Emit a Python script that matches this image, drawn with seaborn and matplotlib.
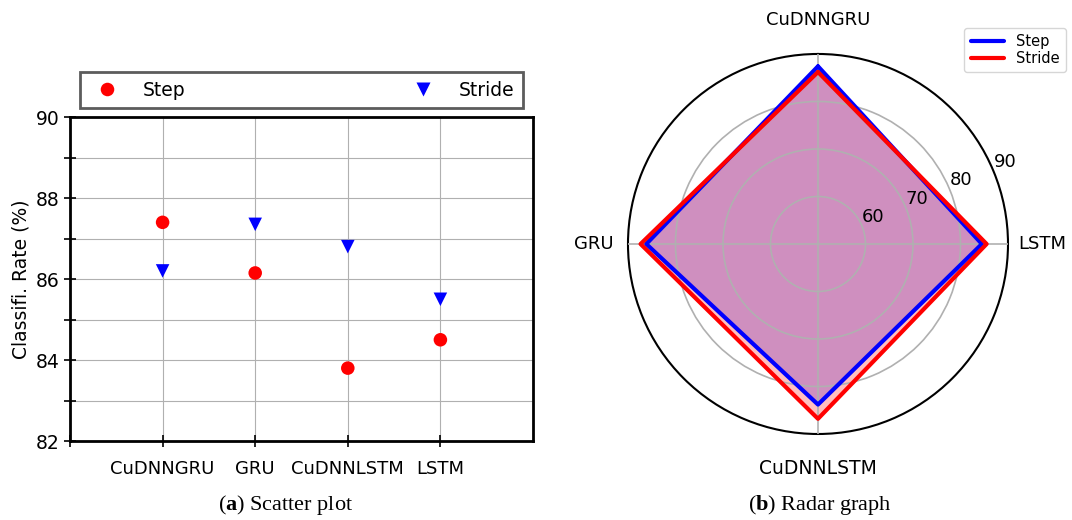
import numpy as np
import pandas as pd
import matplotlib
matplotlib.use("Agg")
import matplotlib.pyplot as plt
import seaborn as sns

# ---- data ----
models = ["CuDNNGRU", "GRU", "CuDNNLSTM", "LSTM"]
step_vals = [87.4, 86.15, 83.8, 84.5]
stride_vals = [86.2, 87.35, 86.8, 85.5]
y_ticks = [82, 84, 86, 88, 90]
r_ticks = [60, 70, 80, 90]
series_names = ["Step", "Stride"]

sns.set_style("ticks")
plt.rcParams["font.family"] = ["DejaVu Sans"]
plt.rcParams["text.color"] = "black"
plt.rcParams["axes.labelcolor"] = "black"
plt.rcParams["xtick.color"] = "black"
plt.rcParams["ytick.color"] = "black"
plt.rcParams["mathtext.fontset"] = "custom"
plt.rcParams["mathtext.rm"] = "Liberation Serif"
plt.rcParams["mathtext.bf"] = "Liberation Serif:bold"

fig = plt.figure(figsize=(10.72, 5.2), dpi=100)

# ---------------- scatter ----------------
ax = fig.add_axes([0.0653, 0.1519, 0.4319, 0.623])
df = pd.DataFrame({
    "x": list(range(len(models))) * 2,
    "y": step_vals + stride_vals,
    "series": [series_names[0]] * len(models) + [series_names[1]] * len(models),
})
sns.scatterplot(data=df, x="x", y="y", hue="series", style="series",
                palette={"Step": "red", "Stride": "blue"},
                markers={"Step": "o", "Stride": "v"},
                s=95, edgecolor="none", ax=ax, zorder=3)
ax.set_xlim(-1, 4)
ax.set_ylim(82, 90)
ax.set_xticks([-1] + list(range(len(models))))
ax.set_xticklabels([""] + models, fontsize=13)
ax.set_yticks(y_ticks)
ax.set_yticks([83, 85, 87, 89], minor=True)
ax.tick_params(axis="y", which="both", direction="inout", length=8, width=1.2,
               labelsize=13.5, colors="black")
ax.tick_params(axis="x", which="both", direction="inout", length=8, width=1.2,
               pad=10, colors="black")
ax.grid(True, which="major", color="#b0b0b0", lw=0.8)
ax.grid(True, which="minor", axis="y", color="#b0b0b0", lw=0.8)
ax.set_axisbelow(True)
for sp in ax.spines.values():
    sp.set_linewidth(2)
    sp.set_color("black")
ax.set_xlabel("")
ax.set_ylabel("Classifi. Rate (%)", fontsize=13.5, color="black")
handles, labels = ax.get_legend_handles_labels()
leg = ax.legend(handles, labels, loc="lower left", bbox_to_anchor=(0.022, 1.028, 0.956, 0.1),
                mode="expand", ncol=2, fontsize=13.5, fancybox=False, frameon=True,
                borderaxespad=0, handletextpad=0.9, borderpad=0.45, markerscale=1.0)
leg.get_frame().set_edgecolor("#333333")
leg.get_frame().set_linewidth(2)

# ---------------- radar ----------------
pax = fig.add_axes([0.5858, 0.1654, 0.3545, 0.7308], projection="polar")
angles = np.linspace(0, 2 * np.pi, len(models), endpoint=False)
ang_c = np.concatenate([angles, angles[:1]])
step_c = np.concatenate([step_vals, step_vals[:1]])
stride_c = np.concatenate([stride_vals, stride_vals[:1]])
pax.set_theta_offset(np.pi / 2)
pax.set_rlim(50, 90)
pax.fill(ang_c, step_c, color="blue", alpha=0.25, lw=0, zorder=1)
pax.fill(ang_c, stride_c, color="red", alpha=0.25, lw=0, zorder=1)
pax.plot(ang_c, step_c, color="blue", lw=3, label=series_names[0], zorder=3)
pax.plot(ang_c, stride_c, color="red", lw=3, label=series_names[1], zorder=4)
pax.set_xticks(angles)
pax.set_xticklabels(models, fontsize=13)
pax.tick_params(axis="x", pad=14, colors="black")
pax.set_yticks(r_ticks)
pax.set_yticklabels([str(v) for v in r_ticks], fontsize=13)
pax.tick_params(axis="y", colors="black")
pax.set_rlabel_position(-67.5)
pax.set_axisbelow(False)
pax.grid(True, color="#b0b0b0", lw=1.2)
for gl in pax.xaxis.get_gridlines() + pax.yaxis.get_gridlines():
    gl.set_zorder(2)
pax.yaxis.get_gridlines()[-1].set_visible(False)
pax.spines["polar"].set_linewidth(1.5)
pax.spines["polar"].set_color("black")
for lab in pax.get_xticklabels():
    if lab.get_text() == "CuDNNLSTM":
        lab.set_fontsize(13.5)
pl = pax.legend(loc="upper right", bbox_to_anchor=(1.172, 1.088), fontsize=10.5,
                handlelength=2.3, borderpad=0.45, labelspacing=0.1)
pl.get_frame().set_edgecolor("#cccccc")

# ---------------- captions ----------------
cap_font = ["Liberation Serif", "DejaVu Serif"]
fig.text(0.266, 0.006, r"($\mathbf{a}$) Scatter plot", ha="center", va="bottom",
         fontsize=16, family=cap_font)
fig.text(0.765, 0.006, r"($\mathbf{b}$) Radar graph", ha="center", va="bottom",
         fontsize=16, family=cap_font)

fig.savefig("out.png", dpi=100)
